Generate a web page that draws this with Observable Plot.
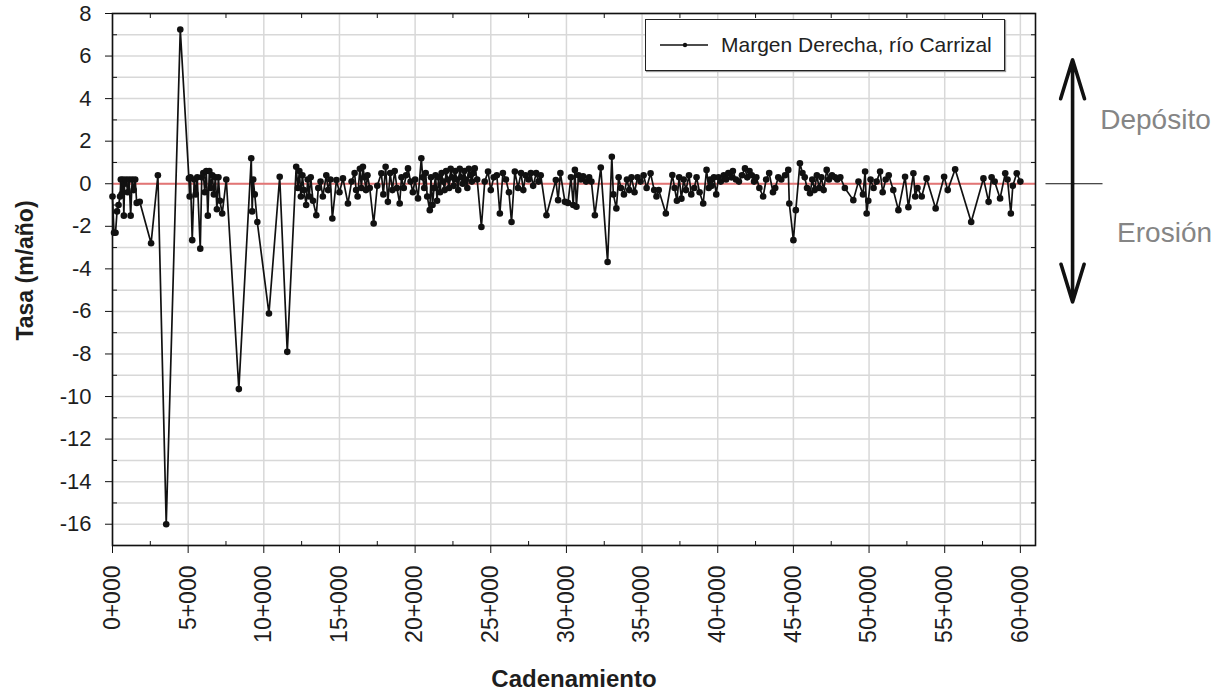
<!DOCTYPE html>
<html>
<head>
<meta charset="utf-8">
<script src="https://cdn.jsdelivr.net/npm/d3@7"></script>
<script src="https://cdn.jsdelivr.net/npm/@observablehq/plot@0.6"></script>
<style>
  html, body { margin: 0; padding: 0; background: #fff; }
  #wrap { position: relative; width: 1224px; height: 694px; font-family: "Liberation Sans", Arial, sans-serif; }
  #legend { position: absolute; left: 645px; top: 19px; width: 360px; height: 52px; box-sizing: border-box;
            border: 1.5px solid #222; background: #fff; box-shadow: 1px 1px 1px #999;
            display: flex; align-items: center; font-size: 21px; color: #222; }
  #legend svg { margin-left: 14px; margin-right: 13px; }
</style>
</head>
<body>
<div id="wrap">
  <div id="chart"></div>
  <div id="legend"></div>
</div>
<script>
// Chainage (m) along the right bank
const chainage = [
  0,100,200,300,400,500,550,600,700,750,
  800,900,1000,1100,1200,1300,1400,1500,1600,1800,
  2550,3000,3550,4480,5050,5100,5150,5270,5400,5500,
  5600,5800,5900,6000,6100,6200,6300,6400,6500,6600,
  6700,6800,6900,7000,7100,7250,7520,8350,9170,9230,
  9300,9400,9570,10340,11050,11550,12140,12250,12350,12450,
  12550,12650,12800,12900,13000,13100,13250,13470,13600,13750,
  13900,14130,14250,14400,14530,14800,15000,15230,15560,15800,
  16000,16100,16200,16350,16450,16550,16650,16750,16850,17000,
  17260,17500,17770,17900,18050,18200,18350,18500,18650,18800,
  18980,19100,19250,19400,19530,19700,19850,20000,20190,20410,
  20500,20600,20700,20800,20970,21050,21150,21250,21350,21450,
  21550,21650,21750,21850,21950,22050,22150,22250,22350,22450,
  22550,22650,22750,22850,22950,23050,23150,23250,23350,23450,
  23550,23650,23750,23850,23940,24100,24380,24600,24820,25000,
  25200,25400,25600,25800,26000,26200,26370,26590,26800,27000,
  27150,27300,27500,27650,27800,28000,28150,28300,28680,29300,
  29450,29600,29900,30100,30300,30450,30560,30660,30800,30950,
  31100,31300,31500,31650,31880,32270,32720,33000,33100,33300,
  33450,33600,33800,34000,34150,34300,34500,34700,34900,35100,
  35300,35560,35800,35950,36100,36570,37000,37150,37300,37450,
  37600,37750,37900,38100,38250,38450,38600,38800,39040,39260,
  39400,39500,39600,39750,39900,40050,40200,40400,40550,40700,
  40900,41000,41200,41400,41600,41800,41950,42100,42250,42400,
  42550,42750,43000,43200,43400,43650,43800,44000,44200,44450,
  44660,44730,45000,45160,45430,45600,45750,45900,46100,46250,
  46400,46550,46700,46850,47000,47200,47350,47550,47750,47900,
  48100,48400,48960,49300,49600,49740,49840,49950,50100,50300,
  50500,50730,50900,51100,51300,51600,51940,52380,52600,52930,
  53050,53200,53480,53800,54400,54960,55200,55690,56750,57560,
  57900,58100,58300,58660,59000,59150,59370,59500,59760,60000
];
// Rate (m/año)
const rate = [
  -0.6,-2.3,-2.3,-1.3,-1.0,-0.6,0.2,-0.5,0.2,-1.5,
  0.0,0.2,-0.4,0.2,-1.5,0.2,-0.3,0.2,-0.9,-0.85,
  -2.8,0.4,-16.0,7.25,0.25,-0.6,0.3,-2.65,0.2,-0.5,
  0.3,-3.05,0.3,0.5,-0.4,0.6,-1.5,0.6,-0.2,0.4,
  -0.5,0.3,-1.2,0.3,-0.8,-1.4,0.2,-9.65,1.2,-1.3,
  0.2,-0.5,-1.8,-6.1,0.33,-7.9,0.8,-0.2,0.6,-0.6,
  0.4,-0.3,-1.0,0.2,-0.6,0.3,-0.8,-1.48,-0.2,0.1,
  -0.6,0.4,-0.3,0.2,-1.63,0.17,-0.4,0.25,-0.93,0.1,
  0.5,-0.3,-0.6,0.7,-0.2,0.8,0.3,-0.3,0.4,-0.2,
  -1.87,-0.1,0.49,-0.5,0.8,-0.85,0.5,-0.3,0.6,-0.2,
  -0.93,0.3,-0.2,0.4,0.72,0.1,-0.4,0.2,-0.69,1.2,
  0.3,-0.2,0.5,-0.6,-1.24,0.3,-1.0,-0.2,0.4,-0.8,
  0.3,-0.4,0.5,0.1,-0.3,0.6,0.2,-0.2,0.7,0.3,
  -0.1,0.6,0.2,-0.3,0.7,0.3,0.0,0.6,0.2,-0.2,
  0.7,0.4,0.1,0.5,0.72,0.2,-2.03,0.1,0.57,-0.3,
  0.3,0.4,-1.4,0.5,0.2,-0.4,-1.8,0.57,-0.2,0.5,
  -0.3,0.4,0.2,0.5,-0.1,0.5,0.1,0.4,-1.48,0.17,
  -0.77,0.5,-0.85,-0.9,0.3,-1.0,0.65,-1.08,0.4,0.2,
  0.35,0.1,0.3,0.1,-1.48,0.76,-3.68,1.27,-0.5,-1.16,
  0.3,-0.2,-0.5,0.2,-0.3,0.3,-0.4,0.3,0.1,0.4,
  -0.2,0.49,-0.3,-0.6,-0.3,-1.4,0.41,-0.2,-0.8,0.3,
  -0.7,0.2,-0.3,0.4,-0.5,-0.2,0.3,-0.4,-0.93,0.65,
  -0.2,0.2,-0.1,0.3,-0.5,0.3,0.1,0.4,0.2,0.5,
  0.3,0.6,0.2,0.1,0.4,0.72,0.3,0.6,0.4,0.1,
  0.3,-0.2,-0.6,0.2,0.5,-0.4,-0.2,0.3,0.2,0.4,
  0.65,-0.93,-2.65,-1.24,0.96,0.5,0.3,-0.2,-0.45,0.2,
  -0.3,0.4,-0.2,0.3,-0.3,0.65,0.2,0.4,0.3,0.2,
  0.3,-0.2,-0.77,0.1,-0.5,0.57,-1.4,-0.8,0.2,-0.2,
  0.1,0.57,-0.4,0.2,0.4,-0.3,-1.24,0.33,-1.1,0.49,
  -0.6,-0.2,-0.6,0.25,-1.16,0.33,-0.3,0.68,-1.8,0.25,
  -0.85,0.3,0.1,-0.69,0.49,0.2,-1.4,-0.1,0.49,0.1
];
// Axis ticks
const xMajorTicks = [0,5000,10000,15000,20000,25000,30000,35000,40000,45000,50000,55000,60000];
const xMinorTicks = [2500,7500,12500,17500,22500,27500,32500,37500,42500,47500,52500,57500];
const yMajorTicks = [-16,-14,-12,-10,-8,-6,-4,-2,0,2,4,6,8];
const yMinorTicks = [-17,-15,-13,-11,-9,-7,-5,-3,-1,1,3,5,7];
const yGridValues = [-17,-16,-15,-14,-13,-12,-11,-10,-9,-8,-7,-6,-5,-4,-3,-2,-1,0,1,2,3,4,5,6,7,8];
// Annotation (Depósito / Erosión) in chart units
const arrowSpec = [
  {x1: 63450, y1: 0, x2: 63450, y2: 5.83},
  {x1: 63450, y1: 0, x2: 63450, y2: -5.56}
];
const crossSpec = [{x1: 61660, x2: 65430, y: 0}];
const noteLabels = [
  {x: 68930, y: 3.0, text: "Depósito"},
  {x: 69530, y: -2.31, text: "Erosión"}
];
const seriesName = "Margen Derecha, río Carrizal";

const data = chainage.map((c, i) => ({c, r: rate[i]}));
const gridColor = "#d8d8d8";
const ink = "#111";

const chart = Plot.plot({
  width: 1224,
  height: 694,
  marginLeft: 112,
  marginRight: 189,
  marginTop: 13,
  marginBottom: 149,
  style: {fontFamily: "'Liberation Sans', Arial, sans-serif", fontSize: "22px", color: "#1e1e1e", background: "white", overflow: "visible"},
  x: {domain: [0, 61000]},
  y: {domain: [-17, 8]},
  marks: [
    Plot.gridY(yGridValues, {stroke: gridColor, strokeOpacity: 1, strokeWidth: 1.5}),
    Plot.gridX(xMajorTicks, {stroke: gridColor, strokeOpacity: 1, strokeWidth: 1.5}),
    Plot.ruleY([0], {stroke: "#e37575", strokeWidth: 1.8}),
    Plot.line(data, {x: "c", y: "r", stroke: ink, strokeWidth: 1.7}),
    Plot.dot(data, {x: "c", y: "r", r: 3.3, fill: ink, stroke: "none"}),
    Plot.frame({stroke: ink, strokeWidth: 1.6}),
    Plot.axisY(yMajorTicks, {tickSize: 7, tickPadding: 14, fontSize: 22, label: null, stroke: ink,
      tickFormat: d => `${d}`}),
    Plot.axisY(yMinorTicks, {tickSize: -5, fill: "none", label: null, stroke: ink}),
    Plot.axisY(yMinorTicks, {anchor: "right", tickSize: -5, fill: "none", label: null, stroke: ink}),
    Plot.axisX(xMajorTicks, {tickSize: 8, tickPadding: 12, tickRotate: -90, fontSize: 23,
      tickFormat: d => `${d / 1000}+000`, label: null, stroke: ink}),
    Plot.axisX(xMinorTicks, {tickSize: -4, fill: "none", label: null, stroke: ink}),
    Plot.axisX(xMinorTicks, {anchor: "top", tickSize: -4, fill: "none", label: null, stroke: ink}),
    Plot.text(["Tasa (m/año)"], {frameAnchor: "left", textAnchor: "middle", dx: -87, dy: -9, rotate: -90, fontWeight: "bold", fontSize: 23, fill: "#1e1e1e"}),
    Plot.text(["Cadenamiento"], {frameAnchor: "bottom", dy: 141, fontWeight: "bold", fontSize: 24, fill: "#1e1e1e"}),
    Plot.link(crossSpec, {x1: "x1", x2: "x2", y1: "y", y2: "y", stroke: ink, strokeWidth: 1}),
    Plot.arrow(arrowSpec, {x1: "x1", y1: "y1", x2: "x2", y2: "y2", stroke: ink, strokeWidth: 3.6, headAngle: 34, headLength: 17}),
    Plot.text(noteLabels, {x: "x", y: "y", text: "text", fontSize: 28, fill: "#858585"})
  ]
});
document.getElementById("chart").appendChild(chart);

// Legend
const legend = document.getElementById("legend");
const sw = d3.create("svg").attr("width", 48).attr("height", 10);
sw.append("line").attr("x1", 0).attr("x2", 48).attr("y1", 5).attr("y2", 5).attr("stroke", ink).attr("stroke-width", 1.3);
sw.append("circle").attr("cx", 25).attr("cy", 5).attr("r", 2.2).attr("fill", ink);
legend.appendChild(sw.node());
const lt = document.createElement("span");
lt.textContent = seriesName;
legend.appendChild(lt);
</script>
</body>
</html>
